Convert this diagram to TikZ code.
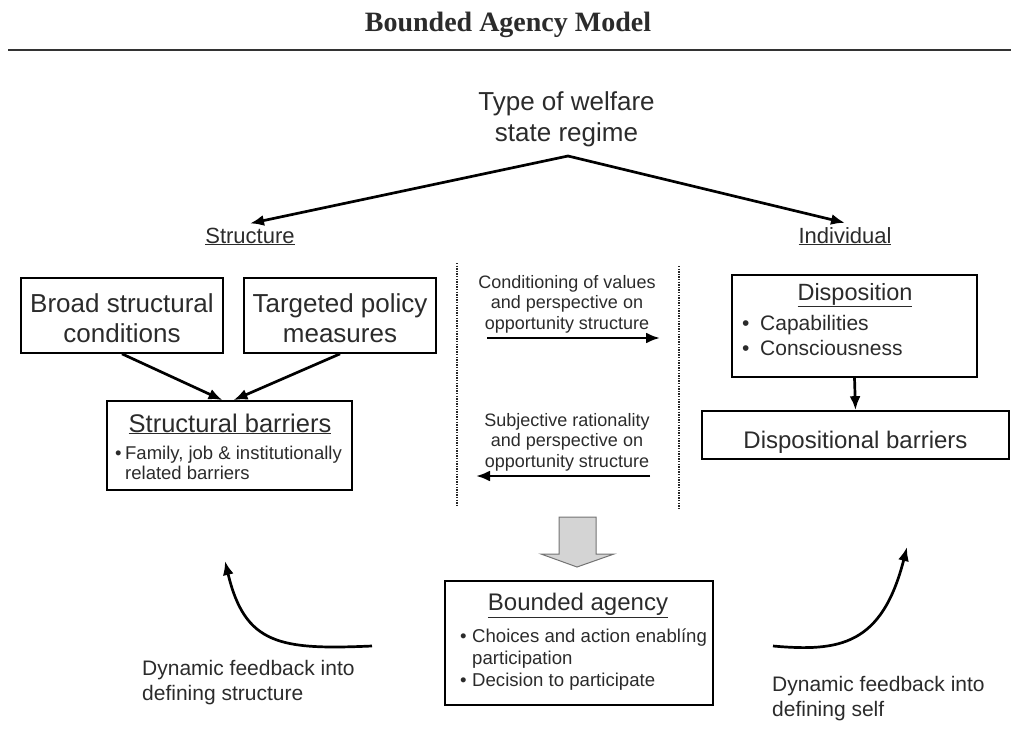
\documentclass[tikz,border=0pt]{standalone}
\usepackage{fontspec}
\setmainfont{Liberation Sans}
\newfontfamily\titlefont{Liberation Serif}
\usetikzlibrary{arrows.meta}
\definecolor{txt}{rgb}{0.17,0.17,0.17}
\begin{document}
\begin{tikzpicture}[x=1pt,y=-1pt,
  box/.style={draw=black, line width=1.7pt, inner sep=0pt},
  big/.style={font=\fontsize{26}{30}\selectfont, text=txt, inner sep=0pt},
  mid/.style={font=\fontsize{24}{28}\selectfont, text=txt, inner sep=0pt},
  lab/.style={font=\fontsize{22}{26}\selectfont, text=txt, inner sep=4pt},
  small/.style={font=\fontsize{18.5}{22}\selectfont, text=txt, inner sep=0pt},
  bul/.style={font=\fontsize{21}{25}\selectfont, text=txt, inner sep=0pt},
  cen/.style={font=\fontsize{18}{20.5}\selectfont, text=txt, inner sep=0pt, align=center},
  fb/.style={font=\fontsize{21}{25.5}\selectfont, text=txt, inner sep=0pt, align=left},
  arr/.style={-{Latex[length=14pt,width=11pt]}, line width=2.7pt, draw=black},
  dotline/.style={line width=2pt, dash pattern=on 1.4pt off 1.2pt, draw=black!85},
]
\useasboundingbox (0,0) rectangle (1011,744);

% title and rule
\node[anchor=base, inner sep=0pt, font=\titlefont\bfseries\fontsize{28}{33}\selectfont, text=txt] (title) at (508,31) {Bounded Agency Model};
\coordinate (r1) at (8,50);
\coordinate (r2) at (1011,50);
\draw[line width=2.4pt, draw=black!80] (r1) -- (r2);

% top
\node[big, align=center, font=\fontsize{26}{31}\selectfont] (type) at (566.5,119) {Type of welfare\\state regime};
\coordinate (apex) at (568,156);
\node[lab, anchor=base] (struct) at (250,243) {\underline{Structure}};
\node[lab, anchor=base] (indiv) at (845,243) {\underline{Individual}};
\draw[arr, line cap=round] (apex) -- (struct.north);
\draw[arr, line cap=round] (apex) -- (indiv.north);

% left boxes
\node[box, minimum width=202pt, minimum height=75pt] (broad) at (122,315.5) {};
\node[big, align=center] (broadt) at (122,318) {Broad structural\\conditions};
\node[box, minimum width=192pt, minimum height=75pt] (targ) at (340,315.5) {};
\node[big, align=center] (targt) at (340,318) {Targeted policy\\measures};
\node[box, minimum width=245pt, minimum height=89pt] (sb) at (229.5,445.5) {};
\node[big, anchor=base, font=\fontsize{25.5}{30}\selectfont] (sbt) at (230,432) {\underline{Structural barriers}};
\node[small, anchor=base west] (sbb1) at (115,459.6) {\makebox[10pt][l]{•}Family, job \& institutionally};
\node[small, anchor=base west] (sbb2) at (125,479.6) {related barriers};
\draw[arr] (broad.south) -- ([xshift=-7pt]sb.north);
\draw[arr] (targ.south) -- ([xshift=4pt]sb.north);

% middle
\coordinate (d1t) at (457,263);
\coordinate (d1b) at (457,507);
\coordinate (d2t) at (679,266);
\coordinate (d2b) at (679,510);
\draw[dotline] (d1t) -- (d1b);
\draw[dotline] (d2t) -- (d2b);
\node[cen] (m1) at (567,304) {Conditioning of values\\and perspective on\\opportunity structure};
\node[cen] (m2) at (567,442) {Subjective rationality\\and perspective on\\opportunity structure};
\coordinate (a1s) at (487,338);
\coordinate (a1e) at (660,338);
\coordinate (a2s) at (650,476);
\coordinate (a2e) at (476,476);
\draw[arr] (a1s) -- (a1e);
\draw[arr] (a2s) -- (a2e);

% right boxes
\node[box, minimum width=245pt, minimum height=102pt] (disp) at (854.5,326) {};
\node[mid, anchor=base, font=\fontsize{23.5}{28}\selectfont] (dispt) at (855,300) {\underline{Disposition}};
\node[bul, anchor=base west] (db1) at (742,330.5) {\makebox[18pt][l]{•}Capabilities};
\node[bul, anchor=base west] (db2) at (742,355.5) {\makebox[18pt][l]{•}Consciousness};
\node[box, minimum width=307pt, minimum height=48pt] (dispb) at (855.5,435) {};
\node[mid, anchor=base] (dispbt) at (855.5,448.5) {Dispositional barriers};
\draw[arr] (disp.south) -- (dispb.north);

% grey block arrow
\draw[fill=black!17, draw=black!55, line width=1pt, line join=miter]
  (559,517) -- (596,517) -- (596,554) -- (614,554) -- (577,567) -- (541,554) -- (559,554) -- cycle;

% bounded agency
\node[box, minimum width=268pt, minimum height=124pt] (ba) at (579,643) {};
\node[mid, anchor=base] (bat) at (578,610.6) {\underline{Bounded agency}};
\node[small, anchor=base west, font=\fontsize{18.6}{22}\selectfont] (bab1) at (460,642.7) {\makebox[12pt][l]{•}Choices and action enablíng};
\node[small, anchor=base west, font=\fontsize{18.6}{22}\selectfont] (bab2) at (472,664.7) {participation};
\node[small, anchor=base west, font=\fontsize{18.6}{22}\selectfont] (bab3) at (460,686.7) {\makebox[12pt][l]{•}Decision to participate};

% feedback arrows
\coordinate (fl1) at (372,646);
\coordinate (fl2) at (225,561);
\draw[arr] (fl1) .. controls (280,650) and (245,645) .. (fl2);
\node[fb, anchor=north west] (flt) at (142,660) {Dynamic feedback into\\defining structure};
\coordinate (fr1) at (773,646);
\coordinate (fr2) at (907,547);
\draw[arr] (fr1) .. controls (840,652) and (882,645) .. (fr2);
\node[fb, anchor=north west] (frt) at (772,676) {Dynamic feedback into\\defining self};
\end{tikzpicture}
\end{document}
